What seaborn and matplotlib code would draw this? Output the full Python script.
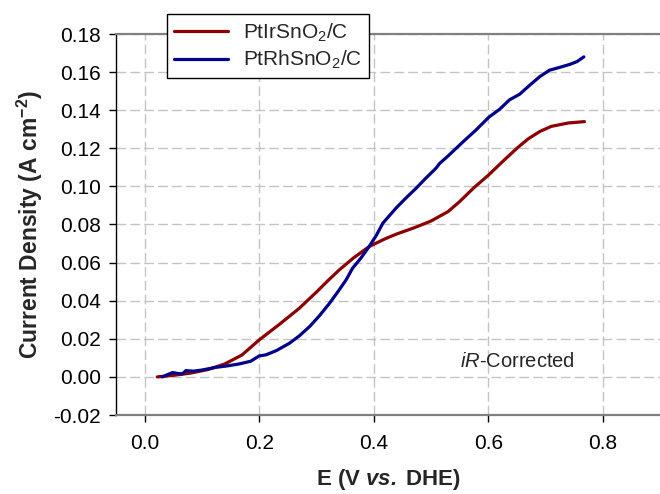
import numpy as np
import pandas as pd
import matplotlib
matplotlib.use("Agg")
import matplotlib.pyplot as plt
import seaborn as sns

# ---- data ----
E_ir = [0.022, 0.05, 0.08, 0.11, 0.14, 0.17, 0.20, 0.235, 0.27, 0.30, 0.32, 0.34, 0.365,
        0.392, 0.42, 0.44, 0.47, 0.50, 0.53, 0.55, 0.575, 0.60, 0.625, 0.65, 0.67, 0.69,
        0.71, 0.74, 0.768]
j_ir = [0.000, 0.0008, 0.002, 0.0038, 0.0068, 0.0115, 0.0194, 0.0275, 0.036, 0.0445, 0.0505,
        0.0562, 0.0625, 0.0684, 0.0725, 0.0750, 0.0782, 0.0818, 0.0868, 0.0920, 0.0993, 0.1058,
        0.1130, 0.1200, 0.1250, 0.1288, 0.1315, 0.1333, 0.1340]

E_rh = [0.031, 0.040, 0.049, 0.058, 0.066, 0.072, 0.085, 0.10, 0.124, 0.145, 0.165, 0.185,
        0.200, 0.212, 0.23, 0.253, 0.27, 0.288, 0.305, 0.323, 0.337, 0.352, 0.363, 0.378,
        0.392, 0.405, 0.416, 0.439, 0.455, 0.474, 0.49, 0.509, 0.515, 0.53, 0.544, 0.56,
        0.579, 0.601, 0.62, 0.637, 0.655, 0.672, 0.690, 0.707, 0.725, 0.742, 0.755, 0.767]
j_rh = [0.000, 0.0012, 0.0023, 0.0018, 0.0016, 0.0033, 0.003, 0.0036, 0.005, 0.0058, 0.0068,
        0.0082, 0.011, 0.0116, 0.0138, 0.0177, 0.0215, 0.0264, 0.032, 0.0387, 0.0445, 0.051,
        0.057, 0.0625, 0.0684, 0.0745, 0.0807, 0.0886, 0.0935, 0.099, 0.104, 0.1096, 0.1120,
        0.1160, 0.1200, 0.1245, 0.1297, 0.1363, 0.1405, 0.1454, 0.1484, 0.1530, 0.1576,
        0.1610, 0.1625, 0.1640, 0.1655, 0.1680]

series_names = ["PtIrSnO$_2$/C", "PtRhSnO$_2$/C"]
series_colors = ["#8B0000", "#00008B"]
x_ticks = [0.0, 0.2, 0.4, 0.6, 0.8]
y_ticks = [-0.02, 0.00, 0.02, 0.04, 0.06, 0.08, 0.10, 0.12, 0.14, 0.16, 0.18]

df = pd.concat([
    pd.DataFrame({"E": E_ir, "j": j_ir, "sample": series_names[0]}),
    pd.DataFrame({"E": E_rh, "j": j_rh, "sample": series_names[1]}),
], ignore_index=True)

sns.set_style("white")
plt.rcParams["font.family"] = ["Liberation Sans", "DejaVu Sans"]
plt.rcParams["mathtext.fontset"] = "custom"
plt.rcParams["mathtext.rm"] = "Liberation Sans"
plt.rcParams["mathtext.it"] = "Liberation Sans:italic"
plt.rcParams["mathtext.bf"] = "Liberation Sans:bold"
plt.rcParams["mathtext.bfit"] = "Liberation Sans:bold:italic"
plt.rcParams["mathtext.default"] = "rm"

fig = plt.figure(figsize=(6.6, 4.94), dpi=100)
ax = fig.add_axes([116 / 660, 1 - 415 / 494, 1 - 116 / 660, (415 - 34) / 494])

sns.lineplot(data=df, x="E", y="j", hue="sample", palette=series_colors,
             sort=False, linewidth=2.3, ax=ax, legend=False)

ax.set_xlim(-0.05, 0.9)
ax.set_ylim(-0.02, 0.18)
ax.set_xticks(x_ticks)
ax.set_yticks(y_ticks)
ax.set_xticklabels([f"{v:.1f}" for v in x_ticks])
ax.set_yticklabels([f"{v:.2f}" for v in y_ticks])
ax.tick_params(axis="both", direction="out", length=5, width=1, color="black",
               labelsize=15, labelcolor="black")
ax.tick_params(axis="x", pad=9)
ax.tick_params(axis="y", pad=6)
ax.xaxis.set_ticks_position("bottom")
ax.yaxis.set_ticks_position("left")

ax.grid(True, which="major", color="#c4c4c4", linestyle=(0, (7, 3)), linewidth=1)
ax.set_axisbelow(True)

ax.spines["right"].set_visible(False)
ax.spines["top"].set_color("#808080")
ax.spines["top"].set_linewidth(1.6)
ax.spines["bottom"].set_color("#808080")
ax.spines["bottom"].set_linewidth(1.6)
ax.spines["left"].set_color("black")
ax.spines["left"].set_linewidth(1.0)

ax.set_xlabel(r"E (V $\mathbfit{vs.}\;$DHE)", fontsize=16, fontweight="bold")
ax.set_ylabel(r"Current Density (A cm$^{\mathbf{-2}}$)", fontsize=16.5, fontweight="bold",
              labelpad=6)
ax.xaxis.set_label_coords((388 - 116) / (660 - 116), -(467 - 415) / (415 - 34))

ax.text(0.55, 0.008, r"$\mathit{iR}$-Corrected", fontsize=14.5, ha="left", va="center")

handles = [plt.Line2D([], [], color=c, linewidth=2.3) for c in series_colors]
leg = fig.legend(handles, series_names, loc="upper left",
                 bbox_to_anchor=(167 / 660, 1 - 14 / 494), bbox_transform=fig.transFigure,
                 fontsize=15, frameon=True, fancybox=False, framealpha=1, edgecolor="black",
                 borderaxespad=0, handlelength=2.6, handletextpad=0.7, labelspacing=0.25,
                 borderpad=0.35)
leg.get_frame().set_linewidth(1.0)

fig.savefig("out.png", dpi=100)
